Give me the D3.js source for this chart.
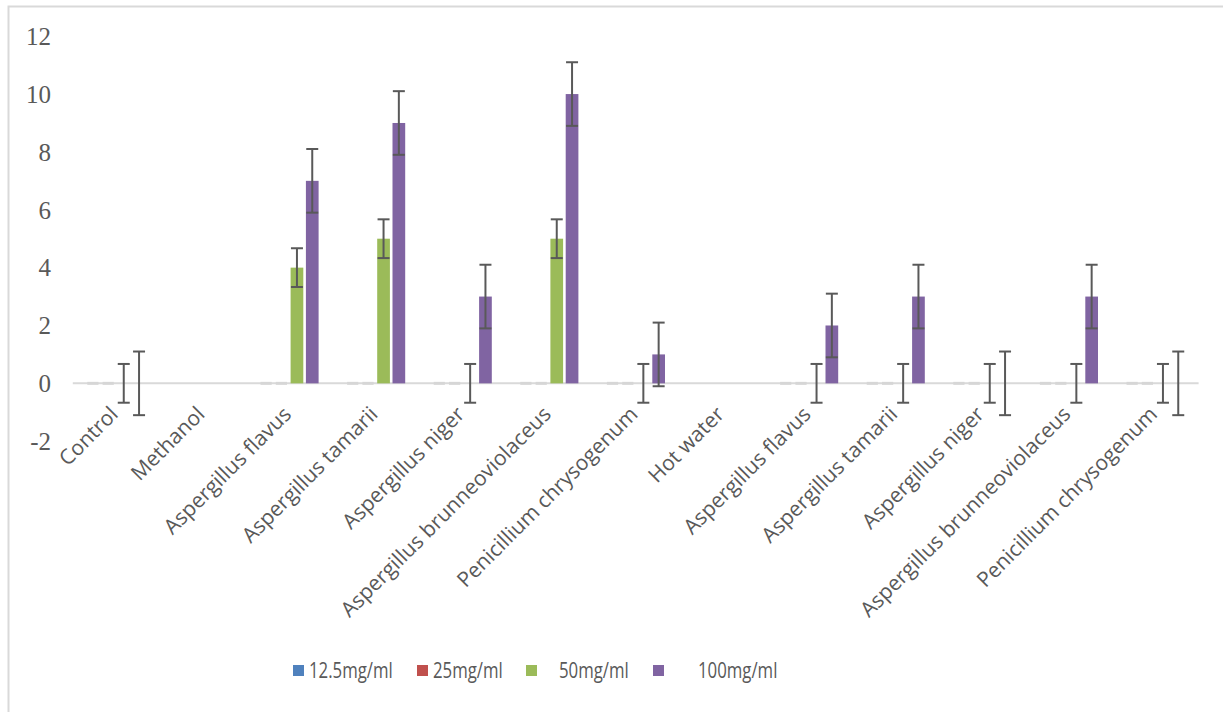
<!DOCTYPE html>
<html>
<head>
<meta charset="utf-8">
<script src="https://cdn.jsdelivr.net/npm/d3@7"></script>
<style>
  html, body { margin: 0; padding: 0; background: #fff; }
  svg { display: block; }
</style>
</head>
<body>
<svg id="chart" width="1223" height="712"></svg>
<script>
// Inhibition zones per extract (mm); null = not tested
const categories = [
  "Control", "Methanol", "Aspergillus flavus", "Aspergillus tamarii",
  "Aspergillus niger", "Aspergillus brunneoviolaceus", "Penicillium chrysogenum",
  "Hot water", "Aspergillus flavus", "Aspergillus tamarii",
  "Aspergillus niger", "Aspergillus brunneoviolaceus", "Penicillium chrysogenum"
];
const seriesNames = ["12.5mg/ml", "25mg/ml", "50mg/ml", "100mg/ml"];
const values125 = [0, null, 0, 0, 0, 0, 0, null, 0, 0, 0, 0, 0];
const values25  = [0, null, 0, 0, 0, 0, 0, null, 0, 0, 0, 0, 0];
const values50  = [0, null, 4, 5, 0, 5, 0, null, 0, 0, 0, 0, 0];
const values100 = [0, null, 7, 9, 3, 10, 1, null, 2, 3, 0, 3, 0];
// error bar half-widths per series (null = none drawn)
const errors = [null, null, 0.67, 1.1];
const yTicks = [-2, 0, 2, 4, 6, 8, 10, 12];
const colors = ["#4f81bd", "#c0504d", "#9bbb59", "#8064a2"];

const seriesValues = [values125, values25, values50, values100];

const svg = d3.select("#chart");

// outer chart frame
svg.append("rect")
  .attr("x", 8.5).attr("y", 6.5)
  .attr("width", 1240).attr("height", 740)
  .attr("fill", "none").attr("stroke", "#d9d9d9").attr("stroke-width", 2);

const x = d3.scaleBand().domain(d3.range(categories.length))
  .range([72.8, 1198.6]).paddingInner(0).paddingOuter(0);
const xs = d3.scaleBand().domain(d3.range(seriesNames.length))
  .range([0, x.bandwidth()]).paddingInner(0.17).paddingOuter(0.915);
const y = d3.scaleLinear().domain([-2, 12]).range([441.2, 36.2]);

// y tick labels (no axis line)
svg.append("g").selectAll("text").data(yTicks).join("text")
  .attr("x", 51).attr("y", d => y(d))
  .attr("dy", "0.35em")
  .attr("text-anchor", "end")
  .attr("font-family", "'Liberation Serif', 'Times New Roman', serif")
  .attr("font-size", 25)
  .attr("fill", "#595959")
  .text(d => d);

// category axis line at zero
svg.append("line")
  .attr("x1", x.range()[0]).attr("x2", x.range()[1])
  .attr("y1", y(0)).attr("y2", y(0))
  .attr("stroke", "#d9d9d9").attr("stroke-width", 2);

const points = [];
seriesValues.forEach((vals, s) => {
  vals.forEach((v, i) => {
    if (v !== null) points.push({ s, i, v });
  });
});

// bars
const barG = svg.append("g");
points.forEach(p => {
  const bx = x(p.i) + xs(p.s);
  const bw = xs.bandwidth();
  if (p.v === 0) {
    if (p.s < 2) {
      // zero-height bars show only their light outline
      barG.append("rect")
        .attr("x", bx + 0.5).attr("y", y(0) - 1.5)
        .attr("width", bw - 1.5).attr("height", 3)
        .attr("fill", "#d6d6d6");
    }
    return;
  }
  barG.append("rect")
    .attr("x", bx).attr("y", y(p.v))
    .attr("width", bw).attr("height", y(0) - y(p.v))
    .attr("fill", colors[p.s]);
});

// error bars
const errG = svg.append("g").attr("stroke", "#595959").attr("stroke-width", 2).attr("fill", "none");
points.forEach(p => {
  const e = errors[p.s];
  if (e === null) return;
  const cx = x(p.i) + xs(p.s) + xs.bandwidth() / 2;
  const y1 = y(p.v + e), y2 = y(p.v - e);
  errG.append("line").attr("x1", cx).attr("x2", cx).attr("y1", y1).attr("y2", y2);
  errG.append("line").attr("x1", cx - 6).attr("x2", cx + 6).attr("y1", y1).attr("y2", y1);
  errG.append("line").attr("x1", cx - 6).attr("x2", cx + 6).attr("y1", y2).attr("y2", y2);
});

// rotated category labels
svg.append("g").selectAll("text").data(categories).join("text")
  .attr("transform", (d, i) => `translate(${x(i) + x.bandwidth() / 2 - 2},${y(0) + 27}) rotate(-45)`)
  .attr("text-anchor", "end")
  .attr("dy", "0.35em")
  .attr("font-family", "'Open Sans', sans-serif")
  .attr("font-size", 21)
  .attr("fill", "#595959")
  .text(d => d);

// legend
const legendBoxX = [293, 417, 526, 653];
const legendTextX = [309, 433, 559, 698];
const legend = svg.append("g");
seriesNames.forEach((n, s) => {
  legend.append("rect")
    .attr("x", legendBoxX[s]).attr("y", 665)
    .attr("width", 11).attr("height", 11)
    .attr("fill", colors[s]);
  legend.append("text")
    .attr("transform", `translate(${legendTextX[s]},678) scale(0.8,1)`)
    .attr("font-family", "'Open Sans', sans-serif")
    .attr("font-size", 21)
    .attr("fill", "#595959")
    .text(n);
});
</script>
</body>
</html>
